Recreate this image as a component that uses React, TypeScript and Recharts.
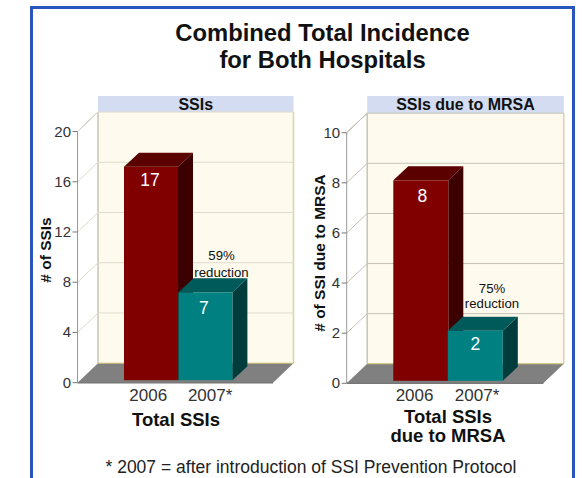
import { BarChart, Bar, XAxis, YAxis, LabelList, CartesianGrid } from 'recharts'

// ── Data ─────────────────────────────────────────────────────────────────────

const YEARS = ['2006', '2007*']
const SSI_VALUES = [17, 7]
const MRSA_VALUES = [8, 2]
const SSI_TICKS = [0, 4, 8, 12, 16, 20]
const MRSA_TICKS = [0, 2, 4, 6, 8, 10]

const TITLE_LINES = ['Combined Total Incidence', 'for Both Hospitals']
const FOOTNOTE = '* 2007 = after introduction of SSI Prevention Protocol'

// ── Look ─────────────────────────────────────────────────────────────────────

const FONT = '"Liberation Sans", Arial, sans-serif'
const FACES = [
  { front: '#800000', top: '#5a0000', side: '#3c0000' },
  { front: '#008080', top: '#005a5a', side: '#003c3c' },
]
const CHART_W = 270
const CHART_H = 360
const CHART_TOP = 90
const AXIS_W = 40
// wall depth of the fake 3D box, bar depth and how far bars float above the axis
const WALL_DX = 20.5
const WALL_DY = 19.5
const BAR_DX = 15
const BAR_DY = 14
const BAR_LIFT = 2.5

interface PanelProps {
  left: number
  plot: { x: number; y: number; w: number; h: number }
  barStart: number
  barW: number
  values: number[]
  ticks: number[]
  header: string
  yLabel: string
  yLabelAt: [number, number]
  xTitle: string[]
  xTitleAt: [number, number]
  note: string[]
  noteAt: [number, number]
  noteGap: number
  labelDy: number[]
  labelDx: number[]
  yearDx: number[]
  gridColor: string
}

function Bar3D(props: any) {
  const { x, y, width, height, index } = props
  const c = FACES[index % FACES.length]
  const top = y - BAR_LIFT
  const bot = y + height - BAR_LIFT
  const r = x + width
  return (
    <g>
      <polygon points={`${r},${top} ${r + BAR_DX},${top - BAR_DY} ${r + BAR_DX},${bot - BAR_DY} ${r},${bot}`} fill={c.side} />
      <polygon points={`${x},${top} ${x + BAR_DX},${top - BAR_DY} ${r + BAR_DX},${top - BAR_DY} ${r},${top}`} fill={c.top} />
      <rect x={x} y={top} width={width} height={bot - top} fill={c.front} />
    </g>
  )
}

function Panel(p: PanelProps) {
  const { plot } = p
  const data = YEARS.map((year, i) => ({ year, value: p.values[i] }))
  const px = plot.x - p.left
  const py = plot.y - CHART_TOP
  const maxTick = p.ticks[p.ticks.length - 1]
  const xAxisH = 40

  // grid line bent back along the side wall, then across the back wall
  const gridLine = (g: any) => {
    if (Math.abs(g.y1 - (py + plot.h)) < 1) return <g key={g.key ?? g.index} />
    return (
      <polyline
        key={g.key ?? g.index}
        points={`${px},${g.y1} ${px + WALL_DX},${g.y1 - WALL_DY} ${px + plot.w + WALL_DX},${g.y1 - WALL_DY}`}
        fill="none"
        stroke={p.gridColor}
        strokeWidth={1}
      />
    )
  }

  const yTick = (t: any) => (
    <g>
      <line x1={px - 5} x2={px} y1={t.y} y2={t.y} stroke="#777" />
      <text x={px - 6.5} y={t.y + 5} textAnchor="end" fontFamily={FONT} fontSize={15} fill="#333">
        {t.payload.value}
      </text>
    </g>
  )

  const xTick = (t: any) => (
    <text x={t.x + p.yearDx[t.index]} y={311} textAnchor="middle" fontFamily={FONT} fontSize={17} fill="#333">
      {t.payload.value}
    </text>
  )

  const valueLabel = (l: any) => (
    <text
      x={l.x + l.width / 2 + p.labelDx[l.index]}
      y={l.y - BAR_LIFT + p.labelDy[l.index]}
      textAnchor="middle"
      fontFamily={FONT}
      fontSize={17.5}
      fill="#fff"
    >
      {l.value}
    </text>
  )

  return (
    <>
      {/* box behind the bars, in its own svg because the grid layer sits under anything drawn in the chart */}
      <svg width={CHART_W} height={CHART_H} style={{ position: 'absolute', left: p.left, top: CHART_TOP }}>
        <rect x={px + WALL_DX} y={6} width={plot.w} height={17} fill="#d3dcf0" />
        <text x={px + WALL_DX + plot.w / 2} y={20} textAnchor="middle" fontFamily={FONT} fontWeight="bold" fontSize={16} fill="#111">
          {p.header}
        </text>
        <rect x={px + WALL_DX} y={py - WALL_DY} width={plot.w} height={plot.h} fill="#fffaee" />
        <line x1={px + WALL_DX} x2={px + WALL_DX} y1={py - WALL_DY} y2={py + plot.h - WALL_DY} stroke="#c9c5b5" strokeWidth={1.5} />
        <line x1={px + plot.w + WALL_DX} x2={px + plot.w + WALL_DX} y1={py - WALL_DY} y2={py + plot.h - WALL_DY} stroke="#d8d4a8" strokeWidth={1.5} />
        <line x1={px} x2={px + WALL_DX} y1={py} y2={py - WALL_DY} stroke="#aaa" />
        <polygon
          points={`${px},${py + plot.h} ${px + plot.w},${py + plot.h} ${px + plot.w + WALL_DX},${py + plot.h - WALL_DY} ${px + WALL_DX},${py + plot.h - WALL_DY}`}
          fill="#808080"
        />
        <line x1={px + WALL_DX} x2={px + plot.w + WALL_DX} y1={py + plot.h - WALL_DY} y2={py + plot.h - WALL_DY} stroke="#c8c070" />
      </svg>
      <BarChart
        width={CHART_W}
        height={CHART_H}
        data={data}
        margin={{ top: py, left: px - AXIS_W, right: CHART_W - px - plot.w, bottom: CHART_H - py - plot.h - xAxisH }}
        barCategoryGap={0}
        style={{ position: 'absolute', left: p.left, top: CHART_TOP }}
      >
        <CartesianGrid vertical={false} horizontal={gridLine} />
        <YAxis
          type="number"
          domain={[0, maxTick]}
          ticks={p.ticks}
          width={AXIS_W}
          interval={0}
          axisLine={{ stroke: '#999' }}
          tickLine={false}
          tick={yTick}
        />
        <XAxis
          dataKey="year"
          axisLine={{ stroke: '#777', strokeWidth: 1.5 }}
          tickLine={false}
          interval={0}
          tick={xTick}
          height={xAxisH}
          padding={{ left: p.barStart - plot.x, right: plot.x + plot.w - p.barStart - p.barW * 2 }}
        />
        <Bar dataKey="value" isAnimationActive={false} shape={Bar3D}>
          <LabelList dataKey="value" content={valueLabel} />
        </Bar>

        {p.note.map((line, i) => (
          <text key={line} x={p.noteAt[0] - p.left} y={p.noteAt[1] - CHART_TOP + i * p.noteGap} textAnchor="middle" fontFamily={FONT} fontSize={13.2} fill="#111">
            {line}
          </text>
        ))}
        <text
          x={p.yLabelAt[0] - p.left}
          y={p.yLabelAt[1] - CHART_TOP}
          transform={`rotate(-90 ${p.yLabelAt[0] - p.left} ${p.yLabelAt[1] - CHART_TOP})`}
          textAnchor="middle"
          fontFamily={FONT}
          fontWeight="bold"
          fontSize={15.5}
          fill="#111"
        >
          {p.yLabel}
        </text>
        {p.xTitle.map((line, i) => (
          <text key={line} x={p.xTitleAt[0] - p.left} y={p.xTitleAt[1] - CHART_TOP + i * 19} textAnchor="middle" fontFamily={FONT} fontWeight="bold" fontSize={18.5} fill="#111">
            {line}
          </text>
        ))}
      </BarChart>
    </>
  )
}

export default function App() {
  return (
    <div style={{ position: 'absolute', left: 0, top: 0, width: 583, height: 478, overflow: 'hidden', background: '#fff', fontFamily: FONT }}>
      <div style={{ position: 'absolute', left: 30, top: 6, width: 545, height: 520, boxSizing: 'border-box', border: '3px solid #2a55bf' }} />
      {TITLE_LINES.map((line, i) => (
        <div key={line} style={{ position: 'absolute', left: 30, width: 585, top: 19 + i * 27, textAlign: 'center', fontWeight: 'bold', fontSize: 23.8, lineHeight: '27px', color: '#111' }}>
          {line}
        </div>
      ))}
      <Panel
        left={30}
        plot={{ x: 77.5, y: 131.5, w: 195.5, h: 251.2 }}
        barStart={124}
        barW={54.4}
        values={SSI_VALUES}
        ticks={SSI_TICKS}
        header="SSIs"
        yLabel="# of SSIs"
        yLabelAt={[51, 250]}
        xTitle={['Total SSIs']}
        xTitleAt={[176, 426]}
        note={['59%', 'reduction']}
        noteAt={[221.5, 260]}
        noteGap={16.5}
        labelDy={[19, 22]}
        labelDx={[-1, -1.5]}
        yearDx={[-3, 4.5]}
        gridColor="#dedbcb"
      />
      <Panel
        left={300}
        plot={{ x: 346.7, y: 132.7, w: 196.6, h: 250.6 }}
        barStart={393.3}
        barW={54.5}
        values={MRSA_VALUES}
        ticks={MRSA_TICKS}
        header="SSIs due to MRSA"
        yLabel="# of SSI due to MRSA"
        yLabelAt={[325, 253]}
        xTitle={['Total SSIs', 'due to MRSA']}
        xTitleAt={[448, 423]}
        note={['75%', 'reduction']}
        noteAt={[492, 293]}
        noteGap={15}
        labelDy={[22, 19]}
        labelDx={[1.5, 0]}
        yearDx={[-6, 2]}
        gridColor="#c4c2b6"
      />
      <div style={{ position: 'absolute', left: 0, width: 622, top: 458, textAlign: 'center', fontSize: 17.5, lineHeight: '19px', color: '#222' }}>
        {FOOTNOTE}
      </div>
    </div>
  )
}
